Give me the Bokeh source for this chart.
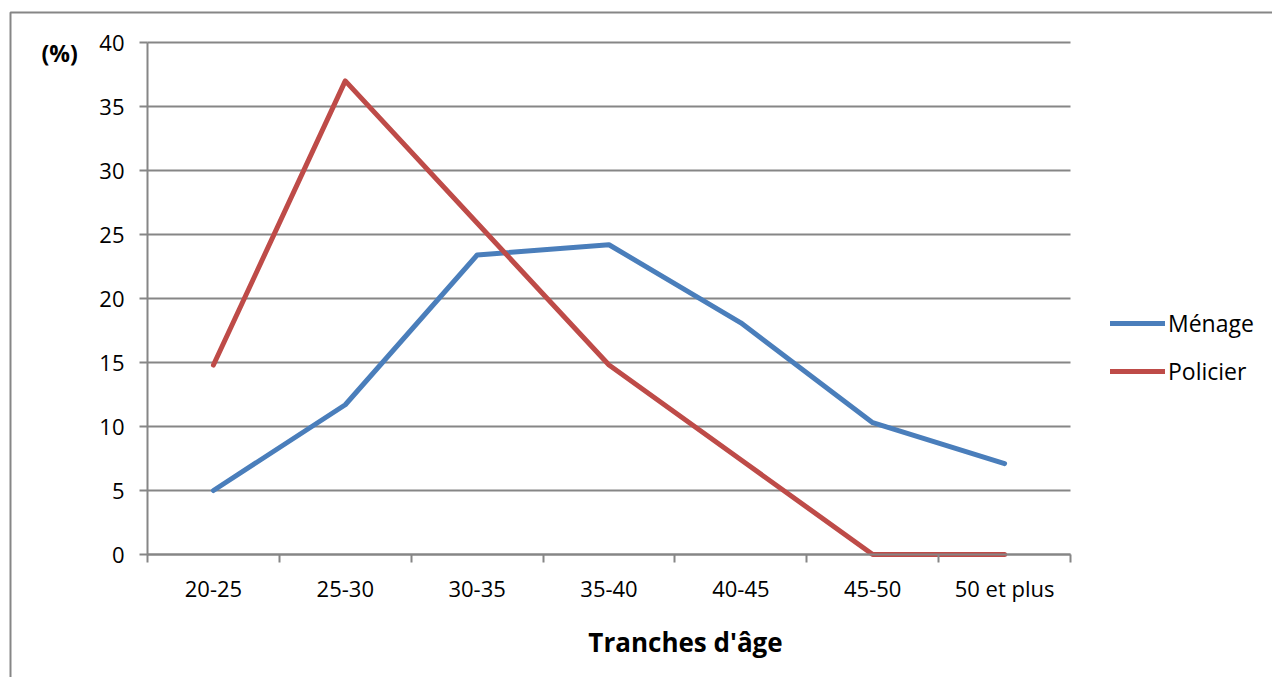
from bokeh.plotting import figure
from bokeh.models import (Range1d, LinearAxis, FixedTicker, Legend,
                          LegendItem, Label, BoxAnnotation, Grid)
from bokeh.embed import file_html
from bokeh.resources import INLINE

categories = ["20-25", "25-30", "30-35", "35-40", "40-45", "45-50", "50 et plus"]
menage = [5.0, 11.7, 23.4, 24.2, 18.1, 10.3, 7.1]
policier = [14.8, 37.0, 25.9, 14.8, 7.4, 0.0, 0.0]
y_ticks = [0, 5, 10, 15, 20, 25, 30, 35, 40]
y_max = 40

FONT = "Open Sans"
GRID = "#868686"
W, H = 1272, 677

n = len(categories)
x_pos = [i + 0.5 for i in range(n)]          # category centres
x_bounds = list(range(n + 1))                 # category boundaries

# the frame covers the whole canvas; the axes are pinned at x=0 / y=0
px_x = (1070 - 147) / n
px_y = (554 - 42) / y_max
p = figure(width=W, height=H, output_backend="svg", toolbar_location=None,
           x_range=Range1d(-147 / px_x, n + (W - 1070) / px_x),
           y_range=Range1d(-(H - 554) / px_y, y_max + 42 / px_y),
           x_axis_type=None, y_axis_type=None,
           min_border_left=0, min_border_right=0, min_border_top=0,
           min_border_bottom=0)
p.title.visible = False
p.outline_line_color = None
p.background_fill_color = "white"
p.border_fill_color = "white"

# horizontal grid lines between the first and last category boundary
if "cross_bounds" in Grid.properties():
    p.add_layout(Grid(dimension=1, ticker=FixedTicker(ticks=y_ticks),
                      bounds=(0, y_max), cross_bounds=(0, n),
                      grid_line_color=GRID, grid_line_width=2))
else:
    p.segment(x0=[0] * len(y_ticks), x1=[n] * len(y_ticks), y0=y_ticks,
              y1=y_ticks, line_color=GRID, line_width=2)

xaxis = LinearAxis(ticker=FixedTicker(ticks=x_pos, minor_ticks=x_bounds),
                   fixed_location=0, bounds=(0, n))
xaxis.major_label_overrides = {x: c for x, c in zip(x_pos, categories)}
xaxis.major_tick_line_color = None
xaxis.minor_tick_line_color = GRID
xaxis.minor_tick_line_width = 2
xaxis.minor_tick_out = 8
xaxis.minor_tick_in = 0
xaxis.axis_line_color = GRID
xaxis.axis_line_width = 2
xaxis.major_label_text_font = FONT
xaxis.major_label_text_font_size = "22px"
xaxis.major_label_text_color = "black"
xaxis.major_label_standoff = 10
p.add_layout(xaxis, "below")

yaxis = LinearAxis(ticker=FixedTicker(ticks=y_ticks), fixed_location=0,
                   bounds=(0, y_max))
yaxis.major_tick_line_color = GRID
yaxis.major_tick_line_width = 2
yaxis.major_tick_out = 8
yaxis.major_tick_in = 0
yaxis.minor_tick_line_color = None
yaxis.axis_line_color = GRID
yaxis.axis_line_width = 2
yaxis.major_label_text_font = FONT
yaxis.major_label_text_font_size = "22px"
yaxis.major_label_text_color = "black"
yaxis.major_label_standoff = 15
p.add_layout(yaxis, "left")

r1 = p.line(x_pos, menage, line_color="#4A7EBB", line_width=5,
            line_join="round", line_cap="round")
r2 = p.line(x_pos, policier, line_color="#BE4B48", line_width=5,
            line_join="round", line_cap="round")

legend = Legend(items=[LegendItem(label="Ménage", renderers=[r1]),
                       LegendItem(label="Policier", renderers=[r2])],
                location=(1110, 290), orientation="vertical",
                glyph_width=55, glyph_height=24, label_height=24,
                label_standoff=3, spacing=16, padding=10, margin=0,
                border_line_color=None, background_fill_color=None,
                label_text_font=FONT, label_text_font_size="23px",
                label_text_color="black")
p.add_layout(legend)

# y unit label and x axis title
p.add_layout(Label(x=41, y=H - 52, x_units="screen", y_units="screen",
                   text="(%)", text_font=FONT, text_font_size="23px",
                   text_font_style="bold", text_baseline="middle",
                   text_align="left", text_color="black"))
p.add_layout(Label(x=685, y=H - 641, x_units="screen", y_units="screen",
                   text="Tranches d'âge", text_font=FONT,
                   text_font_size="26px", text_font_style="bold",
                   text_baseline="middle", text_align="center",
                   text_color="black"))

# outer chart border (cropped at right and bottom in the reference)
p.add_layout(BoxAnnotation(left=10, right=W + 100, top=H - 12, bottom=-100,
                           left_units="screen", right_units="screen",
                           top_units="screen", bottom_units="screen",
                           fill_color=None, fill_alpha=0, line_color=GRID,
                           line_alpha=1, line_width=2))

open("out.html", "w").write(file_html(p, INLINE))
